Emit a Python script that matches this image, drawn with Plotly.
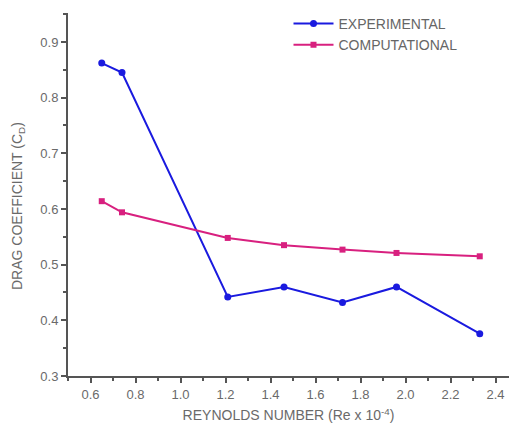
import plotly.graph_objects as go

re_exp = [0.65, 0.74, 1.21, 1.46, 1.72, 1.96, 2.33]
cd_exp = [0.862, 0.845, 0.442, 0.460, 0.432, 0.460, 0.376]
re_comp = [0.65, 0.74, 1.21, 1.46, 1.72, 1.96, 2.33]
cd_comp = [0.614, 0.594, 0.548, 0.535, 0.527, 0.521, 0.515]
x_ticks = [0.6, 0.8, 1.0, 1.2, 1.4, 1.6, 1.8, 2.0, 2.2, 2.4]
x_labels = ["0.6", "0.8", "1.0", "1.2", "1.4", "1.6", "1.8", "2.0", "2.2", "2.4"]
y_ticks = [0.3, 0.4, 0.5, 0.6, 0.7, 0.8, 0.9]

fig = go.Figure()
fig.add_trace(go.Scatter(x=re_exp, y=cd_exp, mode="lines+markers", name="EXPERIMENTAL",
                         line=dict(color="#1a1adf", width=2), marker=dict(size=7, color="#1a1adf")))
fig.add_trace(go.Scatter(x=re_comp, y=cd_comp, mode="lines+markers", name="COMPUTATIONAL",
                         line=dict(color="#d8207f", width=2), marker=dict(size=6, symbol="square", color="#d8207f")))

fam = "Liberation Sans, Arial, sans-serif"
tick_font = dict(family=fam, size=13, color="#6a6a6a")
title_font = dict(family=fam, size=14, color="#6a6a6a")
fig.update_layout(
    width=509, height=428,
    margin=dict(l=68, r=0, t=13, b=52),
    plot_bgcolor="white", paper_bgcolor="white",
    font=tick_font,
    legend=dict(x=0.5, y=1.014, xanchor="left", yanchor="top", bgcolor="rgba(0,0,0,0)",
                font=dict(family=fam, size=14, color="#666666"),
                tracegroupgap=0, itemwidth=40),
    xaxis=dict(range=[0.5, 2.46], tickvals=x_ticks, ticktext=x_labels, tickfont=tick_font,
               showgrid=False, zeroline=False, showline=True, linecolor="#555555", linewidth=2,
               ticks="outside", ticklen=5, tickcolor="#555555", tickwidth=1.5,
               minor=dict(ticks="outside", ticklen=3, dtick=0.1, tick0=0.5, tickcolor="#555555", showgrid=False),
               title=dict(text="REYNOLDS NUMBER (Re x 10<sup>-4</sup>)", font=title_font, standoff=10)),
    yaxis=dict(range=[0.3, 0.952], tickvals=y_ticks, tickfont=tick_font,
               showgrid=False, zeroline=False, showline=True, linecolor="#555555", linewidth=2,
               ticks="outside", ticklen=5, tickcolor="#555555", tickwidth=1.5,
               minor=dict(ticks="outside", ticklen=3, dtick=0.05, tick0=0.3, tickcolor="#555555", showgrid=False)),
    annotations=[dict(text="DRAG COEFFICIENT (C<sub>D</sub>)", textangle=-90, font=title_font,
                      xref="paper", yref="paper", x=-50 / 441, y=170 / 363,
                      xanchor="center", yanchor="middle", showarrow=False)],
)
fig.write_html("out.html")
